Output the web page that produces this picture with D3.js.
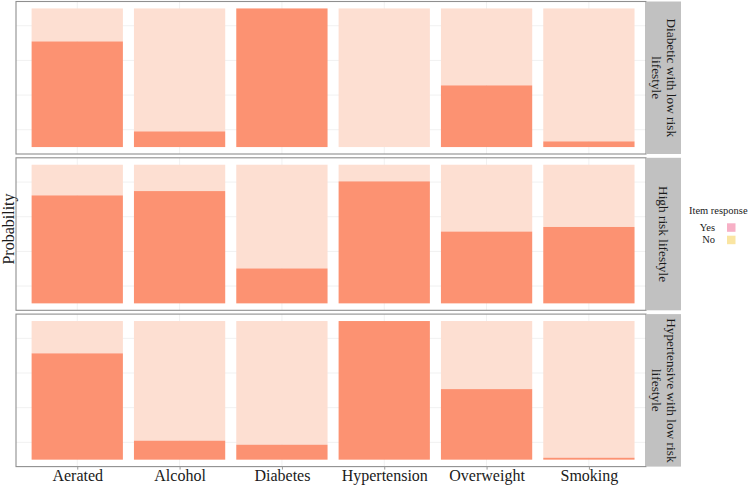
<!DOCTYPE html>
<html lang="en">
<head>
    <meta charset="UTF-8">
    <title>Item response probabilities by class</title>

    <script src="https://d3js.org/d3.v7.min.js"></script>

    <style>
        body {
            margin: 0;
            background: #ffffff;
        }

        svg text {
            font-family: "Liberation Serif", "DejaVu Serif", serif;
        }
    </style>

    <script>

        const categories = ["Aerated", "Alcohol", "Diabetes", "Hypertension", "Overweight", "Smoking"];
        const groupLabels = [
            ["Diabetic with low risk", "lifestyle"],
            ["High risk lifestyle"],
            ["Hypertensive with low risk", "lifestyle"]
        ];

        // probability of a "Yes" response, one list per latent class
        const yesDiabetic = [0.762, 0.113, 1.0, 0.0, 0.445, 0.041];
        const yesHighRisk = [0.779, 0.810, 0.252, 0.880, 0.518, 0.551];
        const yesHypertensive = [0.767, 0.137, 0.108, 1.0, 0.509, 0.014];

        const gridValues = [0.125, 0.375, 0.625, 0.875];
        const legendKeys = ["Yes", "No"];

        document.addEventListener("DOMContentLoaded", () => makeGraph());

        function makeGraph() {
            const width = 748;
            const height = 485;

            const panelLeft = 16;
            const panelRight = 646;
            const stripWidth = 35;
            const panelHeight = 152.5;
            const panelGap = 3.8;
            const firstTop = 1.5;

            const yesColor = "#fc9272";
            const noColor = "#fddfd2";

            const series = [yesDiabetic, yesHighRisk, yesHypertensive];

            let svg = d3.select("svg")
                .attr("width", width)
                .attr("height", height);

            // category centres, then bars take 90% of each step
            let xScale = d3.scalePoint().domain(categories).range([77.25, 588.9]);
            const barWidth = xScale.step() * 0.892;

            series.forEach(function(values, i) {
                const top = firstTop + i * (panelHeight + panelGap);
                const bottom = top + panelHeight;
                const pad = panelHeight * 0.05 / 1.1;

                let yScale = d3.scaleLinear().domain([0, 1]).range([bottom - pad, top + pad]);

                let panel = svg.append("g");

                // faint grid
                panel.selectAll(".hgrid")
                    .data(gridValues)
                    .enter()
                    .append("line")
                    .attr("x1", panelLeft)
                    .attr("x2", panelRight)
                    .attr("y1", d => yScale(d))
                    .attr("y2", d => yScale(d))
                    .attr("stroke", "#f1f1f1")
                    .attr("stroke-width", 1);

                panel.selectAll(".vgrid")
                    .data(categories)
                    .enter()
                    .append("line")
                    .attr("x1", d => xScale(d))
                    .attr("x2", d => xScale(d))
                    .attr("y1", top)
                    .attr("y2", bottom)
                    .attr("stroke", "#f1f1f1")
                    .attr("stroke-width", 1);

                const rows = categories.map((c, j) => ({name: c, yes: values[j]}));

                // "No" segment on top of the "Yes" segment
                panel.selectAll(".no")
                    .data(rows)
                    .enter()
                    .append("rect")
                    .attr("x", d => xScale(d.name) - barWidth / 2)
                    .attr("y", d => yScale(1))
                    .attr("width", barWidth)
                    .attr("height", d => yScale(d.yes) - yScale(1))
                    .attr("fill", noColor);

                panel.selectAll(".yes")
                    .data(rows)
                    .enter()
                    .append("rect")
                    .attr("x", d => xScale(d.name) - barWidth / 2)
                    .attr("y", d => yScale(d.yes))
                    .attr("width", barWidth)
                    .attr("height", d => yScale(0) - yScale(d.yes))
                    .attr("fill", yesColor);

                // panel border
                panel.append("rect")
                    .attr("x", panelLeft)
                    .attr("y", top)
                    .attr("width", panelRight - panelLeft)
                    .attr("height", panelHeight)
                    .attr("fill", "none")
                    .attr("stroke", "#8f8f8f")
                    .attr("stroke-width", 1.1);

                // strip on the right
                panel.append("rect")
                    .attr("x", panelRight)
                    .attr("y", top)
                    .attr("width", stripWidth)
                    .attr("height", panelHeight)
                    .attr("fill", "#c1c1c1");

                const lines = groupLabels[i];
                const cx = panelRight + stripWidth / 2;
                const cy = (top + bottom) / 2;
                lines.forEach(function(line, k) {
                    const offset = (lines.length - 1) * 7.5 - k * 15;
                    panel.append("text")
                        .attr("transform", `translate(${cx + offset}, ${cy}) rotate(90)`)
                        .attr("text-anchor", "middle")
                        .attr("dominant-baseline", "central")
                        .attr("font-size", "13.3px")
                        .attr("fill", "#1a1a1a")
                        .text(line);
                });

                // x axis under the last panel only
                if (i === series.length - 1) {
                    let axis = svg.append("g")
                        .attr("transform", `translate(0, ${bottom})`)
                        .call(d3.axisBottom(xScale).tickSize(3).tickPadding(0));
                    axis.select(".domain").remove();
                    axis.selectAll(".tick line").attr("stroke", "#9a9a9a");
                    axis.selectAll(".tick text")
                        .attr("font-size", "16px")
                        .attr("fill", "#1a1a1a")
                        .attr("font-family", "Liberation Serif, serif");
                }
            });

            svg.append("text")
                .attr("transform", "translate(13.5, 229) rotate(-90)")
                .attr("text-anchor", "middle")
                .attr("font-size", "16px")
                .attr("fill", "#1a1a1a")
                .text("Probability");

            // legend
            let legend = svg.append("g");
            legend.append("text")
                .attr("x", 689)
                .attr("y", 213.5)
                .attr("font-size", "10.5px")
                .attr("fill", "#1a1a1a")
                .text("Item response");

            let legendColor = d3.scaleOrdinal().domain(legendKeys).range(["#f7b0c6", "#fae5a2"]);

            legend.selectAll(".key")
                .data(legendKeys)
                .enter()
                .append("rect")
                .attr("x", 727)
                .attr("y", (d, k) => 223.3 + k * 12.4)
                .attr("width", 8.5)
                .attr("height", 8.5)
                .attr("fill", d => legendColor(d));

            legend.selectAll(".label")
                .data(legendKeys)
                .enter()
                .append("text")
                .attr("x", 715)
                .attr("y", (d, k) => 231 + k * 12.4)
                .attr("text-anchor", "end")
                .attr("font-size", "10.5px")
                .attr("fill", "#1a1a1a")
                .text(d => d);
        }

    </script>

</head>
<body>

    <svg></svg>

</body>
</html>
